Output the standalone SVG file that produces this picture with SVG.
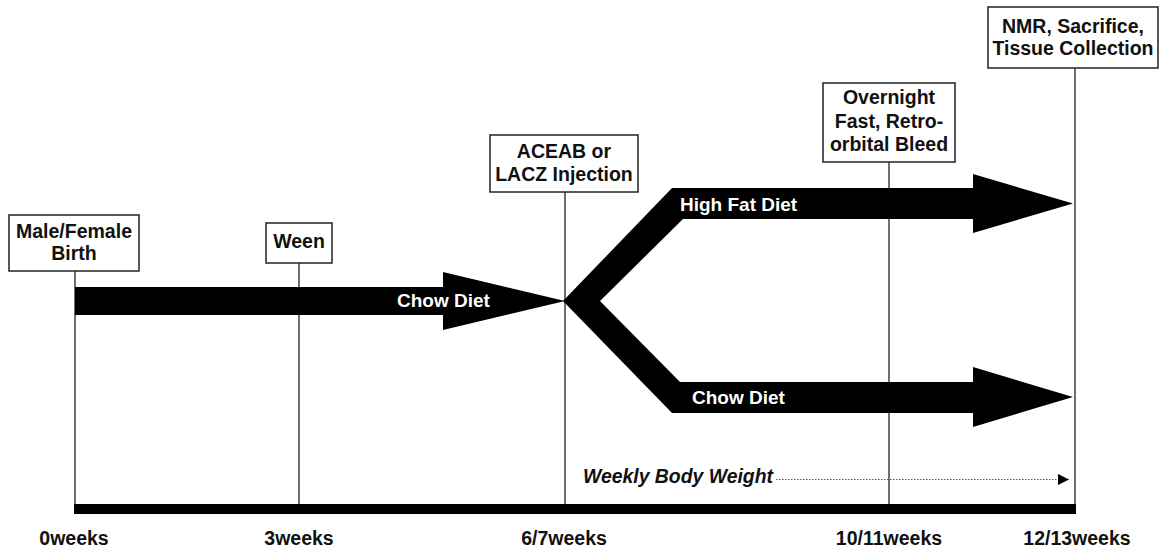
<svg xmlns="http://www.w3.org/2000/svg" width="1163" height="553" viewBox="0 0 1163 553">
<defs>
<style>
.box{fill:#fff;stroke:#222;stroke-width:1.5}
.vl{stroke:#333;stroke-width:1.4;fill:none}
.t{font-family:"Liberation Sans",Arial,sans-serif;font-weight:bold;font-size:19.5px;fill:#111;text-anchor:middle}
.w{font-family:"Liberation Sans",Arial,sans-serif;font-weight:bold;font-size:19px;fill:#fff}
.wk{font-family:"Liberation Sans",Arial,sans-serif;font-weight:bold;font-size:19.5px;fill:#111;text-anchor:middle}
.it{font-family:"Liberation Sans",Arial,sans-serif;font-weight:bold;font-style:italic;font-size:19.4px;fill:#111}
</style>
<marker id="ah" viewBox="0 0 10 10" refX="10" refY="5" markerWidth="13" markerHeight="11" markerUnits="userSpaceOnUse" orient="auto">
<path d="M0,0 L10,5 L0,10 Z" fill="#000"/>
</marker>
</defs>
<rect width="1163" height="553" fill="#fff"/>
<g id="connectors">
<line class="vl" x1="75" y1="271" x2="75" y2="504"/>
<line class="vl" x1="299" y1="263" x2="299" y2="504"/>
<line class="vl" x1="565" y1="192" x2="565" y2="504"/>
<line class="vl" x1="889" y1="162" x2="889" y2="504"/>
<line class="vl" x1="1075" y1="68" x2="1075" y2="504"/>
<rect x="74" y="504" width="1002" height="10" fill="#000"/>
<path d="M776,479.5 L1069,479.5" stroke="#555" stroke-width="1" stroke-dasharray="1.5,1.5" fill="none" marker-end="url(#ah)"/>
</g>
<g id="chow-arrow">
<polygon points="75,287 443,287 443,272 565,301 443,330 443,315 75,315" fill="#000"/>
<text class="w" x="397" y="307">Chow Diet</text>
</g>
<g id="branch-arrows">
<polygon points="563,301 672,188 973,188 973,174 1073,203.5 973,233 973,219 683,219 600,301 680,382 973,382 973,367 1073,397 973,427 973,413 672,413" fill="#000"/>
<text class="w" x="680" y="211">High Fat Diet</text>
<text class="w" x="692" y="404">Chow Diet</text>
</g>
<g id="birth">
<rect class="box" x="9" y="215" width="130" height="56"/>
<text class="t" x="74" y="238">Male/Female</text>
<text class="t" x="74" y="260">Birth</text>
</g>
<g id="ween">
<rect class="box" x="266" y="223" width="66" height="40"/>
<text class="t" x="299" y="248">Ween</text>
</g>
<g id="injection">
<rect class="box" x="490" y="135" width="148" height="57"/>
<text class="t" x="564" y="158">ACEAB or</text>
<text class="t" x="564" y="181">LACZ Injection</text>
</g>
<g id="fast">
<rect class="box" x="823" y="83" width="132" height="79"/>
<text class="t" x="889" y="104">Overnight</text>
<text class="t" x="889" y="128">Fast, Retro-</text>
<text class="t" x="889" y="151">orbital Bleed</text>
</g>
<g id="nmr">
<rect class="box" x="988" y="7" width="170" height="61"/>
<text class="t" x="1073" y="33">NMR, Sacrifice,</text>
<text class="t" x="1073" y="55">Tissue Collection</text>
</g>
<g id="weight">
<text class="it" x="583" y="483">Weekly Body Weight</text>
</g>
<g id="axis-labels">
<text class="wk" x="74" y="545">0weeks</text>
<text class="wk" x="299" y="545">3weeks</text>
<text class="wk" x="564" y="545">6/7weeks</text>
<text class="wk" x="889" y="545">10/11weeks</text>
<text class="wk" x="1077" y="545">12/13weeks</text>
</g>
</svg>
